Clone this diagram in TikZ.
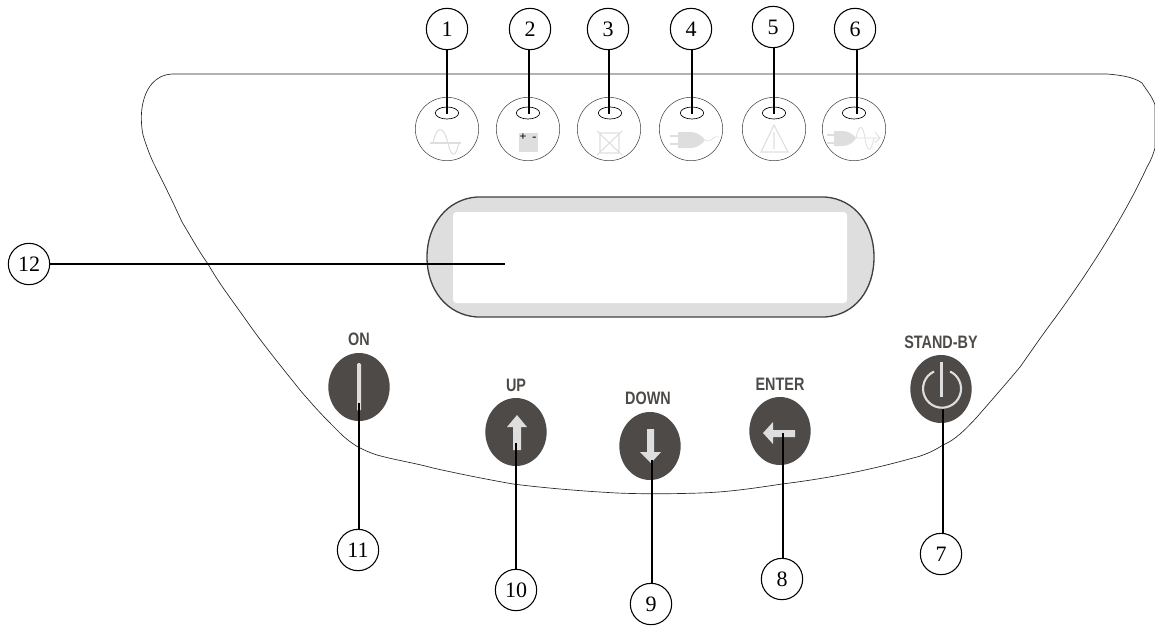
\documentclass[tikz,border=0pt]{standalone}
\usepackage{fontspec}
\setmainfont{Liberation Serif}
\setsansfont{Liberation Sans}
\usetikzlibrary{positioning}
\usetikzlibrary{shapes,shapes.geometric}
\definecolor{keydark}{HTML}{4D4A47}
\definecolor{iconpale}{HTML}{DEDEDE}
\tikzstyle{callout} = [circle, draw, line width=0.8pt, minimum size=31pt, inner sep=0pt, font=\fontsize{16.5}{16.5}\selectfont]
\tikzstyle{lamp} = [circle, draw=black!75, line width=0.4pt, minimum size=47.5pt, inner sep=0pt]
\tikzstyle{led} = [ellipse, draw=black, line width=0.5pt, minimum width=17.5pt, minimum height=9pt, inner sep=0pt]
\tikzstyle{keycap} = [ellipse, fill=keydark, minimum width=46pt, minimum height=51pt, inner sep=0pt]
\tikzstyle{keytext} = [text=keydark, font=\sffamily\bfseries\fontsize{13.5}{13.5}\selectfont, inner sep=0pt, xscale=0.8]
\tikzstyle{leader} = [draw, line width=1pt]
\tikzstyle{glyph} = [draw=iconpale, line width=0.8pt]
\tikzstyle{solidglyph} = [fill=iconpale, draw=none]
\begin{document}
\begin{tikzpicture}[x=0.75pt,y=-0.75pt]
	\useasboundingbox (0,0) rectangle (1155,626);
	% panel outline
	\draw [line width=0.5pt, draw=black!85] (172,74) -- (1107,74)
		.. controls (1120,75) and (1134,77) .. (1142,83)
		.. controls (1147,91) and (1152,96) .. (1155,105)
		-- (1155,148)
		.. controls (1153,155) and (1151,160) .. (1147,167)
		.. controls (1125,215) and (1090,270) .. (1055,318)
		.. controls (1040,338) and (1030,353) .. (1020,367)
		.. controls (1005,385) and (990,402) .. (977,417)
		.. controls (965,430) and (955,440) .. (943,445)
		.. controls (932,452) and (922,456) .. (913,458)
		.. controls (870,470) and (830,478) .. (782,484)
		.. controls (755,488) and (730,492) .. (700,493)
		.. controls (670,494) and (640,494) .. (617,493)
		.. controls (580,491) and (545,488) .. (513,484)
		.. controls (485,479) and (460,474) .. (433,468)
		.. controls (415,463) and (395,460) .. (377,455)
		.. controls (368,452) and (362,449) .. (358,447)
		.. controls (350,442) and (345,438) .. (340,433)
		.. controls (330,423) and (322,415) .. (313,405)
		.. controls (308,399) and (304,395) .. (300,390)
		.. controls (280,365) and (262,343) .. (246,320)
		.. controls (232,300) and (220,285) .. (208,264)
		.. controls (198,250) and (190,235) .. (182,222)
		.. controls (172,200) and (163,182) .. (153,162)
		.. controls (149,153) and (146,145) .. (143,135)
		.. controls (141,125) and (141,115) .. (142,108)
		.. controls (145,88) and (155,75) .. (172,74) -- cycle;
	% display
	\draw [line width=1pt, draw=black!75, fill=iconpale] (477,197) -- (825,197)
		.. controls (855,199) and (874,225) .. (874,257)
		.. controls (874,290) and (855,315) .. (825,317)
		-- (477,317)
		.. controls (447,315) and (427,290) .. (427,257)
		.. controls (427,225) and (447,199) .. (477,197) -- cycle;
	\fill [white, rounded corners=2.5pt] (453,212) rectangle (847,303);
	% place nodes
	\node [lamp] (L1) at (447,129) {};
	\node [lamp] (L2) at (528,129) {};
	\node [lamp] (L3) at (609,129) {};
	\node [lamp] (L4) at (691,129) {};
	\node [lamp] (L5) at (774,129) {};
	\node [lamp] (L6) at (854,129) {};
	\node [led] (E1) at (447,113) {};
	\node [led] (E2) at (528,113) {};
	\node [led] (E3) at (610,113) {};
	\node [led] (E4) at (692,113) {};
	\node [led] (E5) at (774,113) {};
	\node [led] (E6) at (854,113) {};
	\node [callout] (C1) at (447,29) {1};
	\node [callout] (C2) at (530,29) {2};
	\node [callout] (C3) at (608,29) {3};
	\node [callout] (C4) at (691,29) {4};
	\node [callout] (C5) at (773,27) {\raisebox{-3pt}{5}};
	\node [callout] (C6) at (855,29) {6};
	\node [callout] (C7) at (941,554) {7};
	\node [callout] (C8) at (782,579) {8};
	\node [callout] (C9) at (651,604) {9};
	\node [callout] (C10) at (516,590) {10};
	\node [callout] (C11) at (358,550) {11};
	\node [callout] (C12) at (29,264) {12};
	\node [keycap] (K11) at (359,387) {};
	\node [keycap] (K10) at (516,432) {};
	\node [keycap] (K9) at (650,446) {};
	\node [keycap] (K8) at (780,431) {};
	\node [keycap] (K7) at (941,389) {};
	\node [keytext] (T11) at (359,339) {ON};
	\node [keytext] (T10) at (516,385) {UP};
	\node [keytext] (T9) at (648,398) {DOWN};
	\node [keytext] (T8) at (780,384) {ENTER};
	\node [keytext] (T7) at (941,342) {STAND-BY};
	% leader ends
	\coordinate (P1) at (447,114);
	\coordinate (P2) at (529,114);
	\coordinate (P3) at (609,114);
	\coordinate (P4) at (692,114);
	\coordinate (P5) at (774,114);
	\coordinate (P6) at (857,114);
	\coordinate (P7) at (943,409);
	\coordinate (P8) at (783,433);
	\coordinate (P9) at (652,460);
	\coordinate (P10) at (516,443);
	\coordinate (P11) at (359,403);
	\coordinate (P12) at (505,264);
	% lamp glyphs
	\draw [glyph] (430,143) -- (461,143);
	\draw [glyph] (433,143) .. controls (437,125) and (443,125) .. (448,143)
		.. controls (451,158) and (456,158) .. (459,142);
	\fill [iconpale] (519,133) rectangle (538,152);
	\node [font=\bfseries\fontsize{9}{9}\selectfont, inner sep=0pt] (G2) at (528,137) {+\,\,\,-};
	\draw [glyph] (600,133) rectangle (619,153) (597,131) -- (622,155) (622,131) -- (597,155);
	\draw [solidglyph] (678,132) -- (692,132) .. controls (699,133) and (703,137) .. (705,140)
		.. controls (703,143) and (699,147) .. (692,148) -- (678,148) -- cycle;
	\draw [glyph] (670,136) -- (678,136) (670,144) -- (678,144);
	\draw [glyph, line width=0.5pt] (705,140) .. controls (712,144) and (713,134) .. (719,137);
	\draw [glyph] (774,125) -- (761,152) -- (788,152) -- cycle (774,132) -- (774,149);
	\draw [solidglyph] (834,131) -- (844,131) .. controls (850,132) and (854,135) .. (856,138)
		.. controls (854,142) and (850,145) .. (844,146) -- (834,146) -- cycle;
	\draw [glyph] (827,135) -- (834,135) (827,143) -- (834,143);
	\draw [glyph, line width=0.6pt] (856,138) -- (880,138) (875,132) -- (880,138) -- (875,143);
	\draw [glyph, line width=0.6pt] (856,138) .. controls (859,123) and (863,125) .. (865,138)
		.. controls (867,153) and (871,153) .. (874,138);
	% key glyphs
	\fill [iconpale, rounded corners=1pt] (357,363) rectangle (361,411);
	\draw [solidglyph] (517,415) -- (527,427) -- (521,427) -- (521,450) -- (513,450) -- (513,427) -- (507,427) -- cycle;
	\draw [solidglyph] (647,429) -- (654,429) -- (654,452) -- (661,452) -- (651,463) -- (640,452) -- (647,452) -- cycle;
	\draw [solidglyph] (763,433) -- (773,422) -- (773,430) -- (795,430) -- (795,437) -- (773,437) -- (773,444) -- cycle;
	\draw [draw=iconpale, line width=1.6pt] (934,371.5) arc[start angle=245, end angle=-65, radius=19];
	\fill [iconpale] (940,362) rectangle (942.5,397);
	% draw edges
	\path [leader] (P1 |- C1.south) -- (P1);
	\path [leader] (P2 |- C2.south) -- (P2);
	\path [leader] (P3 |- C3.south) -- (P3);
	\path [leader] (P4 |- C4.south) -- (P4);
	\path [leader] (P5 |- C5.south) -- (P5);
	\path [leader] (P6 |- C6.south) -- (P6);
	\path [leader] (P7 |- C7.north) -- (P7);
	\path [leader] (P8 |- C8.north) -- (P8);
	\path [leader] (P9 |- C9.north) -- (P9);
	\path [leader] (P10 |- C10.north) -- (P10);
	\path [leader] (P11 |- C11.north) -- (P11);
	\path [leader] (C12) -- (P12);
\end{tikzpicture}
\end{document}
